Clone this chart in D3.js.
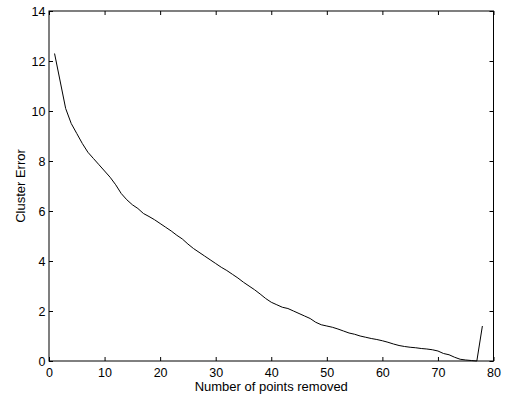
<!DOCTYPE html>
<html><head><meta charset="utf-8">
<script src="https://cdn.jsdelivr.net/npm/d3@7"></script>
<style>
html,body{margin:0;padding:0;background:#fff;}
svg text{font-family:"Liberation Sans",Arial,Helvetica,sans-serif;fill:#000;}
</style></head>
<body>
<svg id="c" width="509" height="399"></svg>
<script>
const pointsRemoved = d3.range(1, 79);
const clusterError = [
 12.3, 11.2, 10.1, 9.5, 9.1, 8.7, 8.35, 8.1, 7.85, 7.6,
 7.35, 7.05, 6.7, 6.45, 6.25, 6.1, 5.9, 5.78, 5.65, 5.5,
 5.35, 5.2, 5.03, 4.88, 4.68, 4.5, 4.35, 4.2, 4.05, 3.9,
 3.75, 3.62, 3.47, 3.32, 3.15, 3.0, 2.85, 2.68, 2.5, 2.35,
 2.25, 2.15, 2.1, 2.0, 1.9, 1.8, 1.7, 1.55, 1.45, 1.4,
 1.35, 1.28, 1.2, 1.12, 1.07, 1.0, 0.95, 0.9, 0.86, 0.81,
 0.75, 0.68, 0.62, 0.58, 0.55, 0.53, 0.5, 0.48, 0.45, 0.4,
 0.3, 0.25, 0.15, 0.07, 0.04, 0.02, 0.0, 1.4
];
const xTicks = [0,10,20,30,40,50,60,70,80];
const yTicks = [0,2,4,6,8,10,12,14];
const xLabel = "Number of points removed";
const yLabel = "Cluster Error";

const L = 49, R = 493.5, T = 11, B = 361;
const svg = d3.select("#c");
const x = d3.scaleLinear().domain([0,80]).range([L,R]);
const y = d3.scaleLinear().domain([0,14]).range([B,T]);

const tl = 4;
const gb = svg.append("g").attr("transform",`translate(0,${B})`)
  .call(d3.axisBottom(x).tickValues(xTicks).tickSize(-tl).tickSizeOuter(0));
const gt = svg.append("g").attr("transform",`translate(0,${T})`)
  .call(d3.axisTop(x).tickValues(xTicks).tickSize(-tl).tickFormat("").tickSizeOuter(0));
const gl = svg.append("g").attr("transform",`translate(${L},0)`)
  .call(d3.axisLeft(y).tickValues(yTicks).tickSize(-tl).tickSizeOuter(0));
const gr = svg.append("g").attr("transform",`translate(${R},0)`)
  .call(d3.axisRight(y).tickValues(yTicks).tickSize(-tl).tickFormat("").tickSizeOuter(0));

[gb,gt,gl,gr].forEach(g=>{
  g.select(".domain").remove();
  g.selectAll("line").attr("stroke","#000").attr("stroke-width",1);
  g.selectAll("text").attr("font-family",null).attr("font-size","12.5px").attr("fill","#000");
});
gb.selectAll("text").attr("dy",null).attr("y",15.5);
gl.selectAll("text").attr("dy","0.35em").attr("x",-3.5);

svg.append("rect").attr("x",L).attr("y",T).attr("width",R-L).attr("height",B-T)
  .attr("fill","none").attr("stroke","#000").attr("stroke-width",1);

const line = d3.line().x((d,i)=>x(pointsRemoved[i])).y(d=>y(d));
svg.append("path").datum(clusterError).attr("d",line)
  .attr("fill","none").attr("stroke","#000").attr("stroke-width",1);

svg.append("text").attr("x",(L+R)/2).attr("y",391).attr("text-anchor","middle")
  .attr("font-size","13px").text(xLabel);
svg.append("text").attr("transform",`translate(25,${(T+B)/2}) rotate(-90)`)
  .attr("text-anchor","middle").attr("font-size","13px").text(yLabel);
</script>
</body></html>
